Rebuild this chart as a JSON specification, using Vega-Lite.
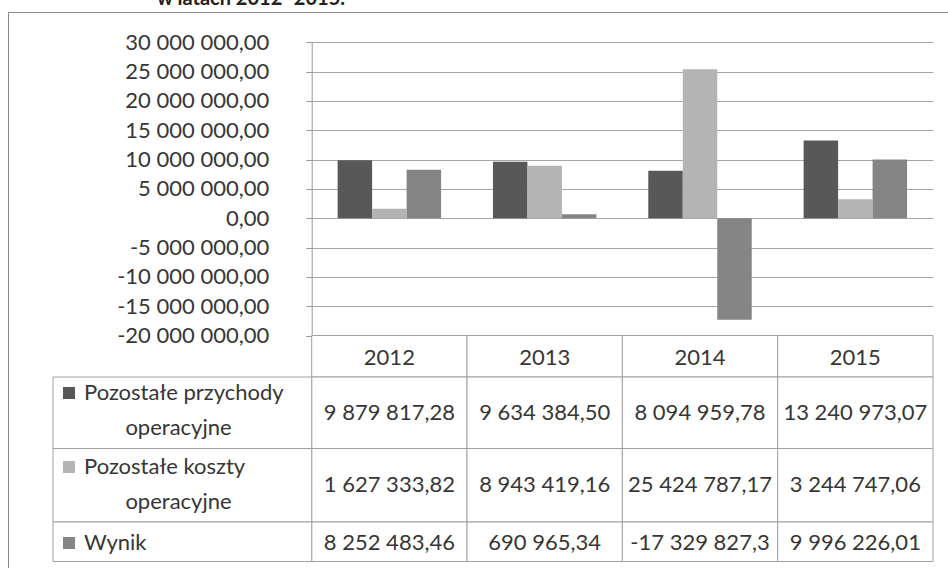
{
  "$schema": "https://vega.github.io/schema/vega-lite/v6.json",
  "width": 950,
  "height": 566,
  "autosize": {"type": "none"},
  "padding": {"left": 8, "top": 12, "right": -10, "bottom": -10},
  "background": "white",
  "title": {
    "text": "w latach 2012–2015.",
    "anchor": "start",
    "frame": "group",
    "dx": 149,
    "dy": 17,
    "offset": 4,
    "baseline": "alphabetic",
    "font": "Lato",
    "fontSize": 20,
    "fontWeight": "bold",
    "color": "#222222"
  },
  "config": {
    "locale": {"number": {"decimal": ",", "thousands": " ", "grouping": [3], "currency": ["", " zł"], "minus": "-"}},
    "view": {"stroke": "#8a8a8a", "strokeWidth": 1},
    "font": "Lato"
  },
  "datasets": {
    "wyniki": [
      {"rok": "2012", "seria": "Pozostałe przychody operacyjne", "wartosc": 9879817.28},
      {"rok": "2012", "seria": "Pozostałe koszty operacyjne", "wartosc": 1627333.82},
      {"rok": "2012", "seria": "Wynik", "wartosc": 8252483.46},
      {"rok": "2013", "seria": "Pozostałe przychody operacyjne", "wartosc": 9634384.50},
      {"rok": "2013", "seria": "Pozostałe koszty operacyjne", "wartosc": 8943419.16},
      {"rok": "2013", "seria": "Wynik", "wartosc": 690965.34},
      {"rok": "2014", "seria": "Pozostałe przychody operacyjne", "wartosc": 8094959.78},
      {"rok": "2014", "seria": "Pozostałe koszty operacyjne", "wartosc": 25424787.17},
      {"rok": "2014", "seria": "Wynik", "wartosc": -17329827.3},
      {"rok": "2015", "seria": "Pozostałe przychody operacyjne", "wartosc": 13240973.07},
      {"rok": "2015", "seria": "Pozostałe koszty operacyjne", "wartosc": 3244747.06},
      {"rok": "2015", "seria": "Wynik", "wartosc": 9996226.01}
    ]
  },
  "resolve": {"scale": {"x": "independent", "y": "independent"}},
  "layer": [
    {
      "data": {"name": "wyniki"},
      "mark": {"type": "bar"},
      "encoding": {
        "x": {"field": "rok", "type": "ordinal", "scale": {"domain": ["2012", "2013", "2014", "2015"], "range": [303.7, 925], "paddingInner": 0.334, "paddingOuter": 0.167}, "axis": null},
        "xOffset": {"field": "seria", "type": "nominal", "scale": {"domain": ["Pozostałe przychody operacyjne", "Pozostałe koszty operacyjne", "Wynik"], "paddingInner": 0, "paddingOuter": 0}},
        "y": {
          "field": "wartosc", "type": "quantitative",
          "scale": {"domain": [-20000000, 30000000], "range": [323.5, 30.3], "nice": false, "zero": true},
          "axis": {
            "orient": "left", "offset": -303.7, "title": null,
            "values": [-20000000, -15000000, -10000000, -5000000, 0, 5000000, 10000000, 15000000, 20000000, 25000000, 30000000],
            "format": ",.2f", "grid": true, "gridColor": "#a6a6a6", "gridWidth": 1,
            "domainColor": "#9a9a9a", "tickColor": "#9a9a9a", "tickSize": 6, "labelPadding": 37,
            "labelFont": "Lato", "labelFontSize": 22, "labelColor": "#363636"
          }
        },
        "color": {"field": "seria", "type": "nominal", "scale": {"domain": ["Pozostałe przychody operacyjne", "Pozostałe koszty operacyjne", "Wynik"], "range": ["#585858", "#b4b4b4", "#858585"]}, "legend": null}
      }
    },
    {
      "data": {"name": "wyniki"},
      "transform": [{"aggregate": [{"op": "count", "as": "n"}], "groupby": ["rok"]}],
      "mark": {"type": "rect", "fill": "white", "stroke": "#a0a0a0", "strokeWidth": 1},
      "encoding": {
        "x": {"field": "rok", "type": "ordinal", "scale": {"domain": ["2012", "2013", "2014", "2015"], "range": [303.7, 925], "paddingInner": 0, "paddingOuter": 0}, "axis": null},
        "y": {"datum": "Rok", "type": "nominal", "scale": {"domain": ["Rok"], "range": [323.5, 365], "paddingInner": 0, "paddingOuter": 0}, "axis": null}
      }
    },
    {
      "data": {"name": "wyniki"},
      "transform": [{"aggregate": [{"op": "count", "as": "n"}], "groupby": ["rok"]}],
      "mark": {"type": "text", "font": "Lato", "fontSize": 22, "fill": "#363636", "align": "center", "baseline": "middle"},
      "encoding": {
        "x": {"field": "rok", "type": "ordinal", "scale": {"domain": ["2012", "2013", "2014", "2015"], "range": [303.7, 925], "paddingInner": 0, "paddingOuter": 0}, "axis": null},
        "y": {"datum": "Rok", "type": "nominal", "scale": {"domain": ["Rok"], "range": [326, 365], "paddingInner": 0, "paddingOuter": 0}, "axis": null},
        "text": {"field": "rok", "type": "nominal"}
      }
    },

    {
      "data": {"name": "wyniki"},
      "transform": [{"filter": "datum.seria === 'Pozostałe przychody operacyjne'"}],
      "mark": {"type": "rect", "fill": "white", "stroke": "#a0a0a0", "strokeWidth": 1},
      "encoding": {
        "x": {"field": "rok", "type": "ordinal", "scale": {"domain": ["2012", "2013", "2014", "2015"], "range": [303.7, 925], "paddingInner": 0, "paddingOuter": 0}, "axis": null},
        "y": {"field": "seria", "type": "nominal", "scale": {"domain": ["Pozostałe przychody operacyjne"], "range": [365, 436.5], "paddingInner": 0, "paddingOuter": 0}, "axis": null}
      }
    },
    {
      "data": {"name": "wyniki"},
      "transform": [{"filter": "datum.seria === 'Pozostałe przychody operacyjne'"}],
      "mark": {"type": "text", "font": "Lato", "fontSize": 22, "fill": "#363636", "align": "center", "baseline": "middle"},
      "encoding": {
        "x": {"field": "rok", "type": "ordinal", "scale": {"domain": ["2012", "2013", "2014", "2015"], "range": [303.7, 925], "paddingInner": 0, "paddingOuter": 0}, "axis": null},
        "y": {"field": "seria", "type": "nominal", "scale": {"domain": ["Pozostałe przychody operacyjne"], "range": [365, 436.5], "paddingInner": 0, "paddingOuter": 0}, "axis": null},
        "text": {"field": "wartosc", "type": "quantitative", "format": ",.2f"}
      }
    },
    {
      "data": {"name": "wyniki"},
      "transform": [{"filter": "datum.seria === 'Pozostałe przychody operacyjne' && datum.rok === '2012'"}],
      "mark": {"type": "rect", "fill": "white", "stroke": "#a0a0a0", "strokeWidth": 1},
      "encoding": {
        "x": {"field": "seria", "type": "nominal", "scale": {"domain": ["Pozostałe przychody operacyjne"], "range": [45, 303.7], "paddingInner": 0, "paddingOuter": 0}, "axis": null},
        "y": {"field": "seria", "type": "nominal", "scale": {"domain": ["Pozostałe przychody operacyjne"], "range": [365, 436.5], "paddingInner": 0, "paddingOuter": 0}, "axis": null}
      }
    },
    {
      "data": {"name": "wyniki"},
      "transform": [
        {"filter": "datum.seria === 'Pozostałe przychody operacyjne' && datum.rok === '2012'"},
        {"calculate": "slice(datum.seria, 0, lastindexof(datum.seria, ' '))", "as": "w1"}
      ],
      "mark": {"type": "text", "font": "Lato", "fontSize": 22, "fill": "#363636", "align": "left", "baseline": "middle"},
      "encoding": {
        "x": {"field": "seria", "type": "nominal", "scale": {"domain": ["Pozostałe przychody operacyjne"], "range": [66, 86], "paddingInner": 0, "paddingOuter": 0}, "axis": null},
        "y": {"field": "seria", "type": "nominal", "scale": {"domain": ["Pozostałe przychody operacyjne"], "range": [371, 391], "paddingInner": 0, "paddingOuter": 0}, "axis": null},
        "text": {"field": "w1", "type": "nominal"}
      }
    },
    {
      "data": {"name": "wyniki"},
      "transform": [
        {"filter": "datum.seria === 'Pozostałe przychody operacyjne' && datum.rok === '2012'"},
        {"calculate": "slice(datum.seria, lastindexof(datum.seria, ' ') + 1)", "as": "w2"}
      ],
      "mark": {"type": "text", "font": "Lato", "fontSize": 22, "fill": "#363636", "align": "center", "baseline": "middle"},
      "encoding": {
        "x": {"field": "seria", "type": "nominal", "scale": {"domain": ["Pozostałe przychody operacyjne"], "range": [160.5, 180.5], "paddingInner": 0, "paddingOuter": 0}, "axis": null},
        "y": {"field": "seria", "type": "nominal", "scale": {"domain": ["Pozostałe przychody operacyjne"], "range": [406, 426], "paddingInner": 0, "paddingOuter": 0}, "axis": null},
        "text": {"field": "w2", "type": "nominal"}
      }
    },
    {
      "data": {"name": "wyniki"},
      "transform": [{"filter": "datum.seria === 'Pozostałe przychody operacyjne' && datum.rok === '2012'"}],
      "mark": {"type": "square", "size": 144, "filled": true, "opacity": 1},
      "encoding": {
        "x": {"field": "seria", "type": "nominal", "scale": {"domain": ["Pozostałe przychody operacyjne"], "range": [51, 71], "paddingInner": 0, "paddingOuter": 0}, "axis": null},
        "y": {"field": "seria", "type": "nominal", "scale": {"domain": ["Pozostałe przychody operacyjne"], "range": [371, 391], "paddingInner": 0, "paddingOuter": 0}, "axis": null},
        "color": {"field": "seria", "type": "nominal", "legend": null}
      }
    },

    {
      "data": {"name": "wyniki"},
      "transform": [{"filter": "datum.seria === 'Pozostałe koszty operacyjne'"}],
      "mark": {"type": "rect", "fill": "white", "stroke": "#a0a0a0", "strokeWidth": 1},
      "encoding": {
        "x": {"field": "rok", "type": "ordinal", "scale": {"domain": ["2012", "2013", "2014", "2015"], "range": [303.7, 925], "paddingInner": 0, "paddingOuter": 0}, "axis": null},
        "y": {"field": "seria", "type": "nominal", "scale": {"domain": ["Pozostałe koszty operacyjne"], "range": [436.5, 510], "paddingInner": 0, "paddingOuter": 0}, "axis": null}
      }
    },
    {
      "data": {"name": "wyniki"},
      "transform": [{"filter": "datum.seria === 'Pozostałe koszty operacyjne'"}],
      "mark": {"type": "text", "font": "Lato", "fontSize": 22, "fill": "#363636", "align": "center", "baseline": "middle"},
      "encoding": {
        "x": {"field": "rok", "type": "ordinal", "scale": {"domain": ["2012", "2013", "2014", "2015"], "range": [303.7, 925], "paddingInner": 0, "paddingOuter": 0}, "axis": null},
        "y": {"field": "seria", "type": "nominal", "scale": {"domain": ["Pozostałe koszty operacyjne"], "range": [436.5, 510], "paddingInner": 0, "paddingOuter": 0}, "axis": null},
        "text": {"field": "wartosc", "type": "quantitative", "format": ",.2f"}
      }
    },
    {
      "data": {"name": "wyniki"},
      "transform": [{"filter": "datum.seria === 'Pozostałe koszty operacyjne' && datum.rok === '2012'"}],
      "mark": {"type": "rect", "fill": "white", "stroke": "#a0a0a0", "strokeWidth": 1},
      "encoding": {
        "x": {"field": "seria", "type": "nominal", "scale": {"domain": ["Pozostałe koszty operacyjne"], "range": [45, 303.7], "paddingInner": 0, "paddingOuter": 0}, "axis": null},
        "y": {"field": "seria", "type": "nominal", "scale": {"domain": ["Pozostałe koszty operacyjne"], "range": [436.5, 510], "paddingInner": 0, "paddingOuter": 0}, "axis": null}
      }
    },
    {
      "data": {"name": "wyniki"},
      "transform": [
        {"filter": "datum.seria === 'Pozostałe koszty operacyjne' && datum.rok === '2012'"},
        {"calculate": "slice(datum.seria, 0, lastindexof(datum.seria, ' '))", "as": "w1"}
      ],
      "mark": {"type": "text", "font": "Lato", "fontSize": 22, "fill": "#363636", "align": "left", "baseline": "middle"},
      "encoding": {
        "x": {"field": "seria", "type": "nominal", "scale": {"domain": ["Pozostałe koszty operacyjne"], "range": [66, 86], "paddingInner": 0, "paddingOuter": 0}, "axis": null},
        "y": {"field": "seria", "type": "nominal", "scale": {"domain": ["Pozostałe koszty operacyjne"], "range": [445, 465], "paddingInner": 0, "paddingOuter": 0}, "axis": null},
        "text": {"field": "w1", "type": "nominal"}
      }
    },
    {
      "data": {"name": "wyniki"},
      "transform": [
        {"filter": "datum.seria === 'Pozostałe koszty operacyjne' && datum.rok === '2012'"},
        {"calculate": "slice(datum.seria, lastindexof(datum.seria, ' ') + 1)", "as": "w2"}
      ],
      "mark": {"type": "text", "font": "Lato", "fontSize": 22, "fill": "#363636", "align": "center", "baseline": "middle"},
      "encoding": {
        "x": {"field": "seria", "type": "nominal", "scale": {"domain": ["Pozostałe koszty operacyjne"], "range": [160.5, 180.5], "paddingInner": 0, "paddingOuter": 0}, "axis": null},
        "y": {"field": "seria", "type": "nominal", "scale": {"domain": ["Pozostałe koszty operacyjne"], "range": [480, 500], "paddingInner": 0, "paddingOuter": 0}, "axis": null},
        "text": {"field": "w2", "type": "nominal"}
      }
    },
    {
      "data": {"name": "wyniki"},
      "transform": [{"filter": "datum.seria === 'Pozostałe koszty operacyjne' && datum.rok === '2012'"}],
      "mark": {"type": "square", "size": 144, "filled": true, "opacity": 1},
      "encoding": {
        "x": {"field": "seria", "type": "nominal", "scale": {"domain": ["Pozostałe koszty operacyjne"], "range": [51, 71], "paddingInner": 0, "paddingOuter": 0}, "axis": null},
        "y": {"field": "seria", "type": "nominal", "scale": {"domain": ["Pozostałe koszty operacyjne"], "range": [445, 465], "paddingInner": 0, "paddingOuter": 0}, "axis": null},
        "color": {"field": "seria", "type": "nominal", "legend": null}
      }
    },

    {
      "data": {"name": "wyniki"},
      "transform": [{"filter": "datum.seria === 'Wynik'"}],
      "mark": {"type": "rect", "fill": "white", "stroke": "#a0a0a0", "strokeWidth": 1},
      "encoding": {
        "x": {"field": "rok", "type": "ordinal", "scale": {"domain": ["2012", "2013", "2014", "2015"], "range": [303.7, 925], "paddingInner": 0, "paddingOuter": 0}, "axis": null},
        "y": {"field": "seria", "type": "nominal", "scale": {"domain": ["Wynik"], "range": [510, 549.5], "paddingInner": 0, "paddingOuter": 0}, "axis": null}
      }
    },
    {
      "data": {"name": "wyniki"},
      "transform": [{"filter": "datum.seria === 'Wynik'"}],
      "mark": {"type": "text", "font": "Lato", "fontSize": 22, "fill": "#363636", "align": "center", "baseline": "middle"},
      "encoding": {
        "x": {"field": "rok", "type": "ordinal", "scale": {"domain": ["2012", "2013", "2014", "2015"], "range": [303.7, 925], "paddingInner": 0, "paddingOuter": 0}, "axis": null},
        "y": {"field": "seria", "type": "nominal", "scale": {"domain": ["Wynik"], "range": [511, 551], "paddingInner": 0, "paddingOuter": 0}, "axis": null},
        "text": {
          "condition": {"test": "datum.wartosc < -10000000", "field": "wartosc", "type": "quantitative", "format": ",.1f"},
          "field": "wartosc", "type": "quantitative", "format": ",.2f"
        }
      }
    },
    {
      "data": {"name": "wyniki"},
      "transform": [{"filter": "datum.seria === 'Wynik' && datum.rok === '2012'"}],
      "mark": {"type": "rect", "fill": "white", "stroke": "#a0a0a0", "strokeWidth": 1},
      "encoding": {
        "x": {"field": "seria", "type": "nominal", "scale": {"domain": ["Wynik"], "range": [45, 303.7], "paddingInner": 0, "paddingOuter": 0}, "axis": null},
        "y": {"field": "seria", "type": "nominal", "scale": {"domain": ["Wynik"], "range": [510, 549.5], "paddingInner": 0, "paddingOuter": 0}, "axis": null}
      }
    },
    {
      "data": {"name": "wyniki"},
      "transform": [{"filter": "datum.seria === 'Wynik' && datum.rok === '2012'"}],
      "mark": {"type": "text", "font": "Lato", "fontSize": 22, "fill": "#363636", "align": "left", "baseline": "middle"},
      "encoding": {
        "x": {"field": "seria", "type": "nominal", "scale": {"domain": ["Wynik"], "range": [66, 86], "paddingInner": 0, "paddingOuter": 0}, "axis": null},
        "y": {"field": "seria", "type": "nominal", "scale": {"domain": ["Wynik"], "range": [521, 541], "paddingInner": 0, "paddingOuter": 0}, "axis": null},
        "text": {"field": "seria", "type": "nominal"}
      }
    },
    {
      "data": {"name": "wyniki"},
      "transform": [{"filter": "datum.seria === 'Wynik' && datum.rok === '2012'"}],
      "mark": {"type": "square", "size": 144, "filled": true, "opacity": 1},
      "encoding": {
        "x": {"field": "seria", "type": "nominal", "scale": {"domain": ["Wynik"], "range": [51, 71], "paddingInner": 0, "paddingOuter": 0}, "axis": null},
        "y": {"field": "seria", "type": "nominal", "scale": {"domain": ["Wynik"], "range": [521, 541], "paddingInner": 0, "paddingOuter": 0}, "axis": null},
        "color": {"field": "seria", "type": "nominal", "legend": null}
      }
    }
  ]
}
